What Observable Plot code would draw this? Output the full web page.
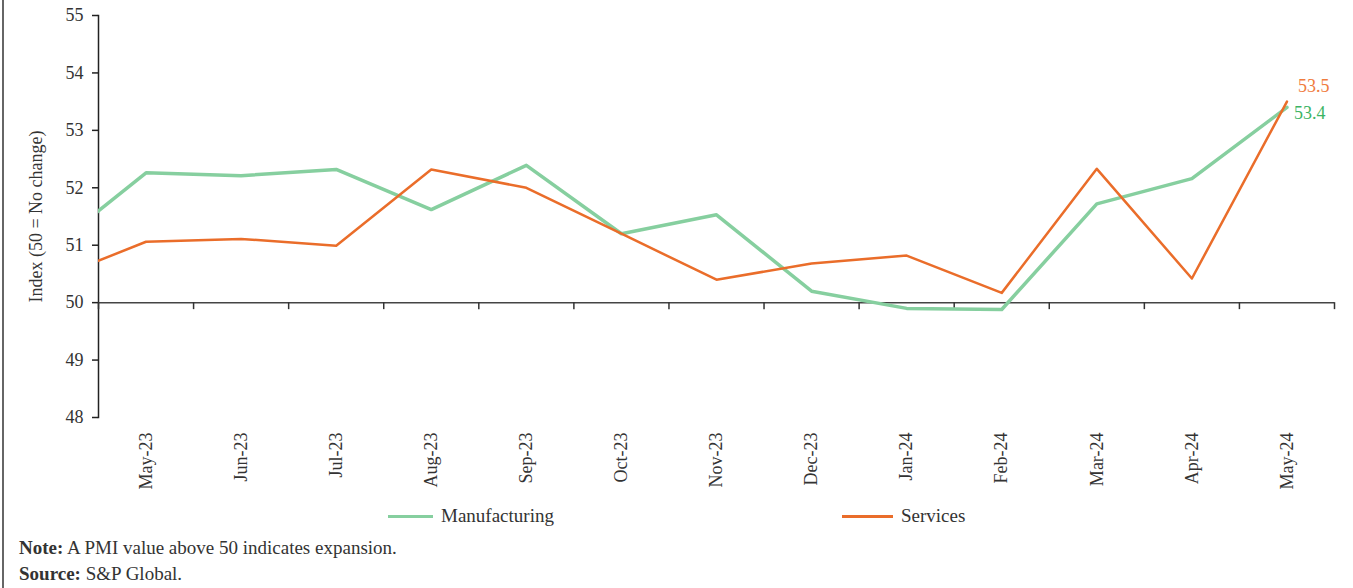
<!DOCTYPE html>
<html>
<head>
<meta charset="utf-8">
<script src="https://cdn.jsdelivr.net/npm/d3@7"></script>
<script src="https://cdn.jsdelivr.net/npm/@observablehq/plot@0.6"></script>
<style>
  html, body { margin: 0; padding: 0; background: #fff; }
  body { font-family: "Liberation Serif", "DejaVu Serif", serif; color: #333; }
  #wrap { position: relative; width: 1353px; height: 588px; overflow: hidden; }
  #border { position: absolute; left: 2px; top: 0; width: 1.5px; height: 588px; background: #666; }
  #chart { position: absolute; left: 0; top: 0; }
  .leg { position: absolute; top: 505px; height: 22px; display: flex; align-items: center; font-size: 19px; color: #333; }
  .sw { display: inline-block; height: 3px; margin-right: 8px; }
  .notes { position: absolute; left: 19px; top: 535px; font-size: 19px; line-height: 26px; color: #333; }
</style>
</head>
<body>
<div id="wrap">
  <div id="border"></div>
  <div id="chart"></div>
  <div class="leg" style="left:388px"><span class="sw" style="width:45px;background:#86cf9f"></span>Manufacturing</div>
  <div class="leg" style="left:842px"><span class="sw" style="width:51px;background:#ea6d2a"></span>Services</div>
  <div class="notes">
    <div><b>Note:</b> A PMI value above 50 indicates expansion.</div>
    <div><b>Source:</b> S&amp;P Global.</div>
  </div>
</div>
<script>
// Months (first one, Apr-23, lies just outside the visible frame and is clipped)
const months = ["Apr-23","May-23","Jun-23","Jul-23","Aug-23","Sep-23","Oct-23","Nov-23","Dec-23","Jan-24","Feb-24","Mar-24","Apr-24","May-24"];
const manufacturing = [50.94, 52.26, 52.21, 52.32, 51.62, 52.39, 51.2, 51.53, 50.2, 49.9, 49.88, 51.72, 52.16, 53.4];
const services      = [50.4, 51.06, 51.11, 50.99, 52.32, 52.0, 51.2, 50.4, 50.68, 50.82, 50.17, 52.33, 50.42, 53.5];
const yTicks = [48, 49, 50, 51, 52, 53, 54, 55];
const baseline = 50;
const yTitle = "Index (50 = No change)";

const GREEN = "#86cf9f", ORANGE = "#ea6d2a";

// index: May-23 = 0
const rows = months.map((m, i) => ({i: i - 1, month: m, man: manufacturing[i], ser: services[i]}));
const shown = rows.filter(d => d.i >= 0);
const lastIdx = shown[shown.length - 1].i;
const boundaries = d3.range(-0.5, lastIdx + 1, 1);
const last = rows[rows.length - 1];

const plot = Plot.plot({
  width: 1353,
  height: 500,
  marginLeft: 98,
  marginRight: 19,
  marginTop: 15,
  marginBottom: 83,
  style: {fontFamily: '"Liberation Serif", serif', fontSize: "18px", color: "#333", background: "transparent"},
  x: {type: "linear", domain: [-0.5, lastIdx + 0.5]},
  y: {domain: [yTicks[0], yTicks[yTicks.length - 1]]},
  marks: [
    Plot.axisY({ticks: yTicks, tickFormat: d3.format("d"), tickSize: 6, tickPadding: 9, fontSize: 18, label: null, stroke: "#222", strokeWidth: 1.5}),
    Plot.axisX({ticks: shown.map(d => d.i), tickFormat: i => months[i + 1], tickSize: 0, tickPadding: 15, tickRotate: -90, fontSize: 18, label: null}),
    Plot.text([yTitle], {text: d => d, frameAnchor: "left", textAnchor: "middle", rotate: -90, dx: -62, fontSize: 18, fill: "#333"}),
    Plot.frame({anchor: "left", stroke: "#222", strokeWidth: 1.5}),
    Plot.ruleY([baseline], {stroke: "#444", strokeWidth: 1.5}),
    Plot.ruleX(boundaries, {y1: () => baseline, y2: () => baseline, insetBottom: -7, stroke: "#333", strokeWidth: 1.5}),
    Plot.line(rows, {x: "i", y: "man", stroke: GREEN, strokeWidth: 3.5, clip: true}),
    Plot.line(rows, {x: "i", y: "ser", stroke: ORANGE, strokeWidth: 2.5, clip: true}),
    Plot.text([last], {x: "i", y: "ser", text: d => d.ser.toFixed(1), dx: 11, dy: -15, textAnchor: "start", fill: "#f07c3e", fontSize: 18}),
    Plot.text([last], {x: "i", y: "man", text: d => d.man.toFixed(1), dx: 7, dy: 6, textAnchor: "start", fill: "#3cb464", fontSize: 18})
  ]
});
document.getElementById("chart").appendChild(plot);
</script>
</body>
</html>
